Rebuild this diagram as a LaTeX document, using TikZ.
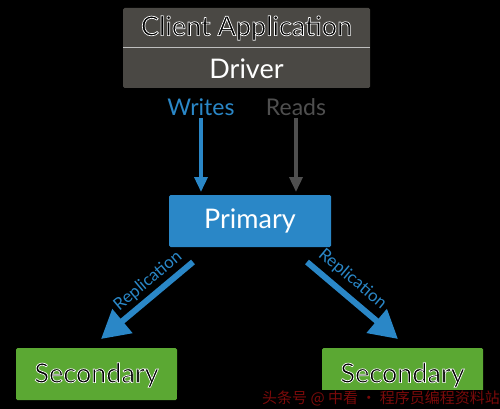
\documentclass[tikz,border=0pt]{standalone}
\usepackage{fontspec}
\setmainfont{Lato}
\newfontfamily\cjkfont{Noto Sans CJK SC}
\usetikzlibrary{arrows.meta}
\definecolor{boxgray}{HTML}{4A4844}
\definecolor{mblue}{HTML}{2A87C7}
\definecolor{rgray}{HTML}{4F4F4F}
\definecolor{mgreen}{HTML}{5BA833}
\definecolor{wmred}{HTML}{7A0A0A}
\newcommand{\outlinetext}[1]{\special{pdf:literal direct 2 Tr 0.7 w 1 1 1 RG}#1\special{pdf:literal direct 0 Tr 1 w 0 0 0 RG}}
\tikzset{
  box/.style={rounded corners=1.5pt, inner sep=0pt},
  boxtext/.style={font=\fontsize{27}{30}\selectfont},
  vert/.style={line width=3.5pt, -{Triangle[width=13pt,length=15pt]}},
  diag/.style={line width=6pt, -{Triangle[width=30pt,length=28pt]}},
  replab/.style={font=\fontsize{17}{19}\selectfont, text=mblue, inner sep=0pt},
}
\begin{document}
\begin{tikzpicture}[x=1pt,y=-1pt]
\fill[black] (0,0) rectangle (500,409);
\useasboundingbox (0,0) rectangle (500,409);
% top box
\fill[boxgray, rounded corners=1.5pt] (123,8) rectangle (370,88);
\draw[line width=1pt, color=black!25] (123,48) -- (370,48);
\node[boxtext, text=black] (client) at (246.5,28) {\outlinetext{Client Application}};
\node[boxtext, text=white] (driver) at (246.5,69) {Driver};
% labels
\node[font=\fontsize{23}{26}\selectfont, text=mblue] (writes) at (201,107) {Writes};
\node[font=\fontsize{23}{26}\selectfont, text=rgray] (reads) at (296,107) {Reads};
% primary
\node[box, fill=mblue, minimum width=162pt, minimum height=52pt] (primary) at (250,221) {};
\node[boxtext, text=white] (primtext) at (250,221) {Primary};
% secondaries
\node[box, fill=mgreen, minimum width=161pt, minimum height=52pt] (sec1) at (96.5,374) {};
\node[boxtext, text=black] (sec1t) at (96.5,375) {\outlinetext{Secondary}};
\node[box, fill=mgreen, minimum width=161pt, minimum height=52pt] (sec2) at (402.5,374) {};
\node[boxtext, text=black] (sec2t) at (402.5,375) {\outlinetext{Secondary}};
% arrows
\coordinate (w1) at (201,118);
\coordinate (w2) at (201,192);
\coordinate (r1) at (296,118);
\coordinate (r2) at (296,192);
\draw[vert, draw=mblue, fill=mblue] (w1) -- (w2);
\draw[vert, draw=rgray, fill=rgray] (r1) -- (r2);
\coordinate (l1) at (193,262);
\coordinate (l2) at (101,339);
\coordinate (rr1) at (307,262);
\coordinate (rr2) at (398,339);
\draw[diag, draw=mblue, fill=mblue] (l1) -- (l2);
\draw[diag, draw=mblue, fill=mblue] (rr1) -- (rr2);
\node[replab, rotate=40] (repl) at (148,281) {Replication};
\node[replab, rotate=-40] (repr) at (352.5,279) {Replication};
% watermark
\fill[black] (177,390) rectangle (500,409);
\node[anchor=east, inner sep=0pt, text=wmred, font=\cjkfont\fontsize{15}{16}\selectfont] (wm) at (500,398) {头条号 @ 中看 · 程序员编程资料站};
\end{tikzpicture}
\end{document}
